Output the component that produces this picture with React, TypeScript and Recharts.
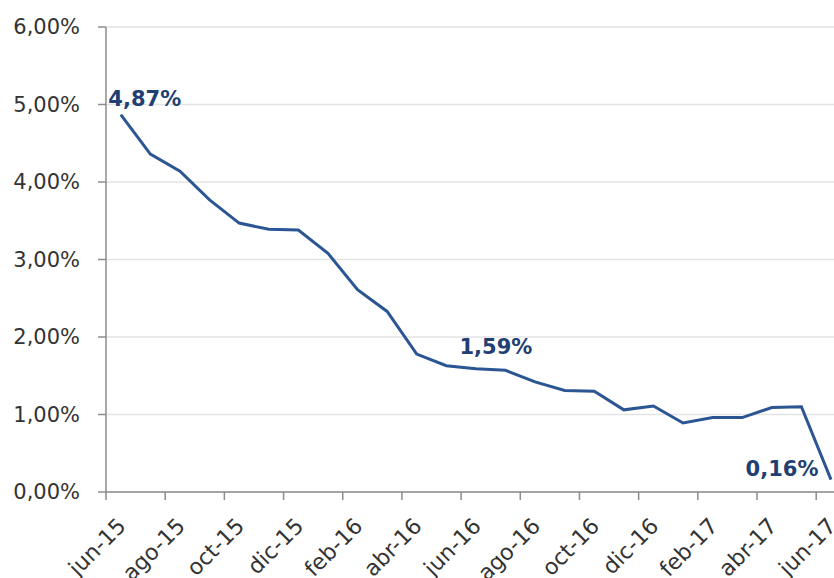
import React from 'react';
import { LineChart, Line, XAxis, YAxis, CartesianGrid, LabelList } from 'recharts';

const months = [
  'jun-15', 'jul-15', 'ago-15', 'sep-15', 'oct-15', 'nov-15', 'dic-15', 'ene-16', 'feb-16',
  'mar-16', 'abr-16', 'may-16', 'jun-16', 'jul-16', 'ago-16', 'sep-16', 'oct-16', 'nov-16',
  'dic-16', 'ene-17', 'feb-17', 'mar-17', 'abr-17', 'may-17', 'jun-17',
];
const rates = [
  4.87, 4.36, 4.14, 3.77, 3.47, 3.39, 3.38, 3.08, 2.61, 2.33, 1.78, 1.63, 1.59,
  1.57, 1.42, 1.31, 1.3, 1.06, 1.11, 0.89, 0.96, 0.96, 1.09, 1.1, 0.16,
];
const yTicks = [0, 1, 2, 3, 4, 5, 6];

const data = months.map((m, i) => ({ name: m, rate: rates[i] }));

const fmt = (v: number) => v.toFixed(2).replace('.', ',') + '%';

// where the three highlighted values sit relative to their point
const labelOffsets: Record<number, { dx: number; dy: number }> = {
  0: { dx: 24, dy: -16 },
  12: { dx: 20, dy: -22 },
  24: { dx: -49, dy: -11 },
};

const FONT = '"DejaVu Sans", Verdana, sans-serif';
const BAND = 14.8;

const MonthTick = (props: any) => {
  const { x, y, payload } = props;
  return (
    <g>
      <line x1={x - BAND} x2={x - BAND} y1={y} y2={y + 8} stroke="#8c8c8c" strokeWidth={1.5} />
      <text
        transform={`translate(${x + 1},${y + 30}) rotate(-45)`}
        textAnchor="end"
        dy="0.35em"
        fontSize={22}
        fontFamily={FONT}
        fill="#333"
      >
        {payload.value}
      </text>
    </g>
  );
};

const PointLabel = (props: any) => {
  const { x, y, index, value } = props;
  const off = labelOffsets[index];
  if (!off) return null;
  return (
    <text
      x={x + off.dx}
      y={y + off.dy}
      dy="0.35em"
      textAnchor="middle"
      fontSize={21}
      fontWeight="bold"
      fontFamily={FONT}
      fill="#213f72"
    >
      {fmt(value)}
    </text>
  );
};

export default function App() {
  return (
    <div style={{ position: 'absolute', left: 0, top: 0, width: 834, height: 578, background: '#fff' }}>
      <LineChart width={834} height={578} data={data} margin={{ top: 27, right: 0, bottom: 0, left: 0 }}>
        <CartesianGrid vertical={false} stroke="#e3e3e3" strokeWidth={1.5} />
        <XAxis
          dataKey="name"
          interval={1}
          height={86}
          padding={{ left: BAND, right: 3 }}
          axisLine={{ stroke: '#8c8c8c', strokeWidth: 1.5 }}
          tickLine={false}
          tickSize={0}
          tickMargin={0}
          tick={<MonthTick />}
        />
        <YAxis
          width={106}
          domain={[0, 6]}
          ticks={yTicks}
          tickFormatter={fmt}
          axisLine={{ stroke: '#8c8c8c', strokeWidth: 1.5 }}
          tickLine={{ stroke: '#8c8c8c', strokeWidth: 1.5 }}
          tickSize={8}
          tickMargin={18}
          tick={{ fontSize: 21, fontFamily: FONT, fill: '#333' }}
        />
        <Line
          type="linear"
          dataKey="rate"
          stroke="#2b5593"
          strokeWidth={3}
          dot={false}
          isAnimationActive={false}
        >
          <LabelList dataKey="rate" content={<PointLabel />} />
        </Line>
      </LineChart>
    </div>
  );
}
